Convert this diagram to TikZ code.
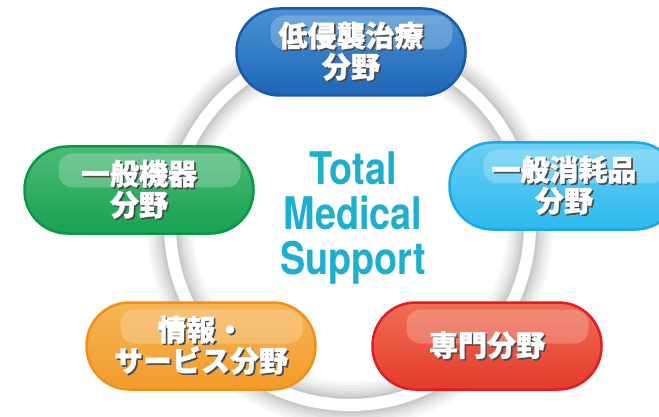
\documentclass[tikz,border=0pt]{standalone}
\usepackage{fontspec}
\usetikzlibrary{shapes.misc}
\newfontfamily\jpfont{Noto Sans CJK JP}[BoldFeatures = {FakeBold = 1.2}]
\newfontfamily\tmsfont{TeX Gyre Heros}[FakeStretch = 0.84]
\definecolor{blueline}{HTML}{1A5AA8}
\definecolor{bluetop}{HTML}{4A92D4}
\definecolor{bluebot}{HTML}{1E66B6}
\definecolor{cyanline}{HTML}{1AAAE2}
\definecolor{cyantop}{HTML}{6ACFF5}
\definecolor{cyanbot}{HTML}{2CB8EE}
\definecolor{greenline}{HTML}{0A9848}
\definecolor{greentop}{HTML}{4DBA78}
\definecolor{greenbot}{HTML}{17A251}
\definecolor{orangeline}{HTML}{EF9114}
\definecolor{orangetop}{HTML}{F6B557}
\definecolor{orangebot}{HTML}{F29B2A}
\definecolor{redline}{HTML}{E11C22}
\definecolor{redtop}{HTML}{EF6E55}
\definecolor{redbot}{HTML}{E53A2C}
\definecolor{tmscyan}{HTML}{1EAFCF}
\definecolor{txtshadow}{HTML}{4A4A4A}
\newcommand\sh[1]{\rlap{\kern1.6pt\raisebox{-1.6pt}{\color{txtshadow}#1}}#1}
\tikzstyle{pill} = [rectangle, rounded corners = 43pt, minimum width = 229pt, minimum height = 87pt, line width = 2.5pt, align = center, text = white, font = \jpfont\bfseries\fontsize{29}{31}\selectfont, path picture = {\fill[white, opacity = 0.22, rounded corners = 14pt] ([xshift = 34pt, yshift = -7pt]path picture bounding box.north west) rectangle ([xshift = -13pt, yshift = -41pt]path picture bounding box.north east);}]
\tikzstyle{bluepill} = [pill, draw = blueline, top color = bluetop, bottom color = bluebot]
\tikzstyle{cyanpill} = [pill, draw = cyanline, top color = cyantop, bottom color = cyanbot]
\tikzstyle{greenpill} = [pill, draw = greenline, top color = greentop, bottom color = greenbot]
\tikzstyle{orangepill} = [pill, draw = orangeline, top color = orangetop, bottom color = orangebot]
\tikzstyle{redpill} = [pill, draw = redline, top color = redtop, bottom color = redbot]
\tikzstyle{title} = [align = center, text = tmscyan, font = \tmsfont\bfseries\fontsize{45}{45}\selectfont]
\begin{document}
\begin{tikzpicture}[x = 1pt, y = -1pt]
    \useasboundingbox (0,0) rectangle (659,417);
    % ring with soft shadow
    \foreach \w/\c in {46/3, 40/6, 34/9, 28/13, 22/17, 17/21}
        \draw[line width = \w pt, black!\c] (350,225) circle [radius = 180pt];
    \draw[line width = 12pt, white] (350,225) circle [radius = 180pt];

    \node(tms)[title] at (353,218){Total\\Medical\\Support};

    \node(minv)[bluepill] at (351,52){\sh{低侵襲治療}\\\sh{分野}};
    \node(cons)[cyanpill] at (564,186){\sh{一般消耗品}\\\sh{分野}};
    \node(equip)[greenpill] at (139,190){\sh{一般機器}\\\sh{分野}};
    \node(info)[orangepill] at (201,346){\sh{情報・}\\\sh{サービス分野}};
    \node(spec)[redpill] at (487,346){\sh{専門分野}};
\end{tikzpicture}
\end{document}
